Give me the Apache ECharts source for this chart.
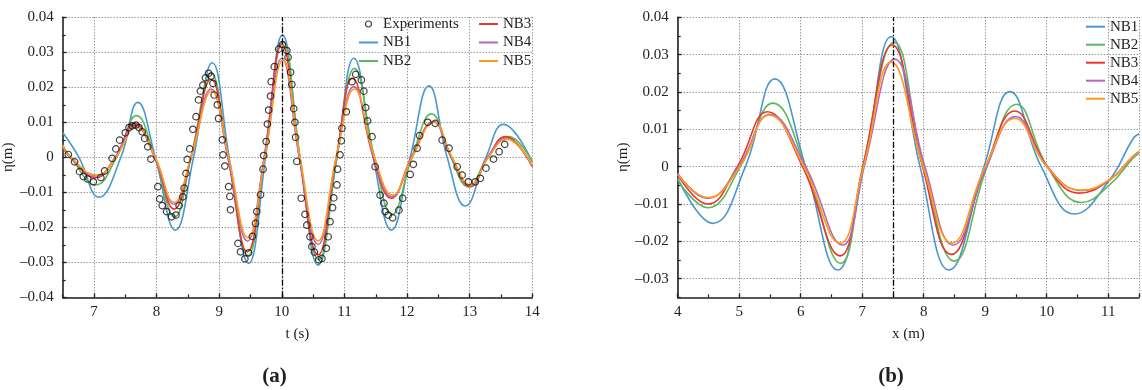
<!DOCTYPE html>
<html>
<head>
<meta charset="utf-8">
<script src="https://cdn.jsdelivr.net/npm/echarts@6/dist/echarts.min.js"></script>
<style>
  html, body { margin: 0; padding: 0; background: #fff; }
  #chart { width: 1142px; height: 390px; }
</style>
</head>
<body>
<div id="chart"></div>
<script>
// ---- (a) free-surface elevation time series at the gauge ----
const seriesNames = ['NB1', 'NB2', 'NB3', 'NB4', 'NB5'];
const seriesColors = ['#4a97cf', '#5cb85a', '#e8372c', '#b267c2', '#ff9a1c'];

const timeTicks = [7, 8, 9, 10, 11, 12, 13, 14];
const timeMarker = 10;

const experiments = [
  [6.59, 0.0008], [6.69, -0.0013], [6.77, -0.0041], [6.83, -0.0055], [6.90, -0.0062],
  [6.99, -0.0070], [7.11, -0.0058], [7.17, -0.0039], [7.29, -0.0003], [7.35, 0.0024],
  [7.41, 0.0049], [7.50, 0.0070], [7.56, 0.0085], [7.61, 0.0090], [7.67, 0.0092],
  [7.72, 0.0085], [7.77, 0.0073], [7.81, 0.0054], [7.86, 0.0030], [7.91, -0.0005],
  [8.02, -0.0084], [8.05, -0.0119], [8.09, -0.0138], [8.16, -0.0155], [8.24, -0.0170],
  [8.31, -0.0165], [8.36, -0.0138], [8.42, -0.0113], [8.44, -0.0088], [8.47, -0.0046],
  [8.49, -0.0006], [8.53, 0.0024], [8.58, 0.0080], [8.63, 0.0116], [8.67, 0.0164],
  [8.70, 0.0189], [8.74, 0.0206], [8.78, 0.0227], [8.83, 0.0240], [8.87, 0.0232],
  [8.90, 0.0211], [8.92, 0.0178], [8.97, 0.0150], [8.99, 0.0111], [9.05, 0.0050],
  [9.06, 0.0007], [9.09, -0.0025], [9.15, -0.0084], [9.17, -0.0112], [9.18, -0.0150],
  [9.30, -0.0246], [9.34, -0.0270], [9.41, -0.0290], [9.47, -0.0273], [9.53, -0.0226],
  [9.58, -0.0189], [9.60, -0.0155], [9.66, -0.0107], [9.70, -0.0034], [9.71, 0.0005],
  [9.75, 0.0045], [9.77, 0.0095], [9.79, 0.0135], [9.82, 0.0175], [9.83, 0.0216],
  [9.88, 0.0259], [9.95, 0.0309], [10.01, 0.0322], [10.08, 0.0305], [10.10, 0.0286],
  [10.14, 0.0243], [10.16, 0.0208], [10.19, 0.0139], [10.21, 0.0100], [10.22, 0.0057],
  [10.24, -0.0012], [10.31, -0.0117], [10.37, -0.0163], [10.40, -0.0194], [10.45, -0.0227],
  [10.48, -0.0255], [10.52, -0.0271], [10.59, -0.0293], [10.64, -0.0289], [10.71, -0.0260],
  [10.74, -0.0227], [10.77, -0.0184], [10.81, -0.0144], [10.83, -0.0116], [10.88, -0.0079],
  [10.89, -0.0034], [10.93, 0.0007], [10.95, 0.0047], [10.96, 0.0083], [11.03, 0.0130],
  [11.12, 0.0216], [11.18, 0.0237], [11.27, 0.0221], [11.31, 0.0189], [11.34, 0.0142],
  [11.37, 0.0104], [11.44, 0.0059], [11.49, -0.0027], [11.57, -0.0108], [11.63, -0.0131],
  [11.65, -0.0155], [11.70, -0.0165], [11.77, -0.0173], [11.87, -0.0151], [11.93, -0.0117],
  [12.05, -0.0049], [12.10, -0.0020], [12.16, 0.0026], [12.20, 0.0062], [12.33, 0.0100],
  [12.45, 0.0097], [12.56, 0.0049], [12.67, 0.0026], [12.80, -0.0027], [12.88, -0.0051],
  [12.98, -0.0070], [13.09, -0.0070], [13.17, -0.0060], [13.26, -0.0031], [13.38, -0.0005],
  [13.47, 0.0016], [13.56, 0.0037]
];

const gaugeNB1 = [
  [6.5, 0.0071], [6.76, 0], [7.08, -0.0114], [7.43, 0], [7.70, 0.0157], [7.98, 0],
  [8.30, -0.0208], [8.59, 0], [8.89, 0.0270], [9.16, 0], [9.47, -0.0303], [9.74, 0],
  [10.01, 0.0349], [10.29, 0], [10.58, -0.0308], [10.88, 0], [11.15, 0.0283], [11.46, 0],
  [11.75, -0.0208], [12.05, 0], [12.35, 0.0204], [12.64, 0], [12.93, -0.0139], [13.26, 0],
  [13.54, 0.0094], [14.0, -0.0013]
];
const gaugeNB2 = [
  [6.5, 0.0035], [6.63, 0], [7.03, -0.0079], [7.36, 0], [7.68, 0.0119], [7.97, 0],
  [8.29, -0.0170], [8.55, 0], [8.87, 0.0240], [9.14, 0], [9.46, -0.0281], [9.72, 0],
  [10.02, 0.0330], [10.29, 0], [10.59, -0.0293], [10.88, 0], [11.16, 0.0254], [11.48, 0],
  [11.76, -0.0163], [12.08, 0], [12.39, 0.0124], [12.70, 0], [12.98, -0.0084], [13.29, 0],
  [13.62, 0.0059], [14.0, -0.0013]
];
const gaugeNB3 = [
  [6.5, 0.0030], [6.62, 0], [7.03, -0.0058], [7.34, 0], [7.65, 0.0097], [7.97, 0],
  [8.28, -0.0148], [8.55, 0], [8.87, 0.0223], [9.14, 0], [9.45, -0.0270], [9.72, 0],
  [10.0, 0.0323], [10.28, 0], [10.58, -0.0279], [10.87, 0], [11.13, 0.0226], [11.46, 0],
  [11.75, -0.0117], [12.07, 0], [12.42, 0.0102], [12.71, 0], [13.01, -0.0084], [13.29, 0],
  [13.57, 0.0059], [14.0, -0.0027]
];
const gaugeNB4 = [
  [6.5, 0.0032], [6.62, 0], [7.04, -0.0053], [7.34, 0], [7.65, 0.0092], [7.97, 0],
  [8.28, -0.0134], [8.55, 0], [8.87, 0.0195], [9.14, 0], [9.45, -0.0239], [9.72, 0],
  [10.0, 0.0283], [10.28, 0], [10.58, -0.0249], [10.87, 0], [11.15, 0.0202], [11.47, 0],
  [11.76, -0.0113], [12.08, 0], [12.42, 0.0100], [12.71, 0], [13.01, -0.0081], [13.29, 0],
  [13.58, 0.0054], [14.0, -0.0025]
];
const gaugeNB5 = [
  [6.5, 0.0035], [6.63, 0], [7.05, -0.0051], [7.35, 0], [7.67, 0.0087], [7.98, 0],
  [8.28, -0.0129], [8.55, 0], [8.88, 0.0189], [9.15, 0], [9.46, -0.0230], [9.73, 0],
  [10.02, 0.0278], [10.29, 0], [10.58, -0.0239], [10.87, 0], [11.16, 0.0195], [11.48, 0],
  [11.77, -0.0108], [12.08, 0], [12.43, 0.0100], [12.72, 0], [13.01, -0.0079], [13.30, 0],
  [13.59, 0.0052], [14.0, -0.0022]
];

// ---- (b) free-surface profile along the flume ----
const etaTicksB = [-0.03, -0.02, -0.01, 0, 0.01, 0.02, 0.03, 0.04];
const positionMarker = 7.5;

const profileNB1 = [
  [4.0, -0.0031], [4.57, -0.0152], [5.10, 0], [5.58, 0.0235], [6.08, 0], [6.60, -0.0277],
  [7.03, 0], [7.47, 0.0348], [7.94, 0], [8.41, -0.0277], [8.98, 0], [9.40, 0.0201],
  [9.91, 0], [10.45, -0.0127], [11.02, -0.0036], [11.40, 0.0074], [11.5, 0.0088]
];
const profileNB2 = [
  [4.0, -0.0036], [4.49, -0.0110], [5.02, 0], [5.55, 0.0170], [6.08, 0], [6.65, -0.0259],
  [7.01, 0], [7.52, 0.0333], [8.00, 0], [8.50, -0.0253], [9.03, 0], [9.51, 0.0167],
  [10.01, 0], [10.57, -0.0096], [11.02, -0.0049], [11.40, 0.0022], [11.5, 0.0035]
];
const profileNB3 = [
  [4.0, -0.0022], [4.49, -0.0100], [4.97, 0], [5.46, 0.0147], [6.03, 0], [6.64, -0.0239],
  [7.01, 0], [7.49, 0.0326], [7.98, 0], [8.45, -0.0235], [9.01, 0], [9.48, 0.0149],
  [10.01, 0], [10.53, -0.0071], [11.02, -0.0036], [11.40, 0.0027], [11.5, 0.0040]
];
const profileNB4 = [
  [4.0, -0.0018], [4.48, -0.0085], [4.99, 0], [5.50, 0.0140], [6.08, 0], [6.68, -0.0210],
  [7.03, 0], [7.53, 0.0288], [8.02, 0], [8.48, -0.0210], [9.02, 0], [9.49, 0.0134],
  [10.01, 0], [10.57, -0.0064], [11.02, -0.0035], [11.40, 0.0027], [11.5, 0.0040]
];
const profileNB5 = [
  [4.0, -0.0021], [4.49, -0.0083], [5.01, 0], [5.49, 0.0138], [6.05, 0], [6.64, -0.0205],
  [7.02, 0], [7.47, 0.0280], [7.99, 0], [8.46, -0.0205], [9.00, 0], [9.48, 0.0129],
  [10.00, 0], [10.56, -0.0063], [11.02, -0.0035], [11.40, 0.0027], [11.5, 0.0040]
];

const gaugeSeries = [gaugeNB1, gaugeNB2, gaugeNB3, gaugeNB4, gaugeNB5];
const profileSeries = [profileNB1, profileNB2, profileNB3, profileNB4, profileNB5];

// ---- styling ----
const FONT = '"Liberation Serif", "DejaVu Serif", serif';
const INK = '#222';
const gridLine = { show: true, lineStyle: { color: '#6a6a6a', type: [1, 2], width: 1 } };
const axisLineStyle = { show: true, onZero: false, lineStyle: { color: INK, width: 1.6 } };
const labelStyle = { color: INK, fontFamily: FONT, fontSize: 15 };

function etaLabel(v) {
  if (Math.abs(v) < 1e-9) return '0';
  const s = Math.abs(v).toFixed(2);
  return v < 0 ? '\u2013' + s : s;
}

// hidden companion axis that only draws the short half-step ticks
function minorX(gridIndex, min, max) {
  return {
    type: 'value', gridIndex, min, max, interval: 0.5, position: 'bottom',
    axisLine: { show: false, onZero: false },
    axisTick: { show: true, inside: true, length: 3, lineStyle: { color: INK, width: 1.2 } },
    axisLabel: { show: false }, splitLine: { show: false }
  };
}
function minorY(gridIndex, min, max) {
  return {
    type: 'value', gridIndex, min, max, interval: 0.005, position: 'left',
    axisLine: { show: false, onZero: false },
    axisTick: { show: true, inside: true, length: 3, lineStyle: { color: INK, width: 1.2 } },
    axisLabel: { show: false }, splitLine: { show: false }
  };
}

const markerLine = (value) => ({
  symbol: 'none', silent: true, label: { show: false },
  lineStyle: { color: '#000', type: [6, 2, 1.5, 2], width: 1.3 },
  data: [{ xAxis: value }]
});

const series = [];
gaugeSeries.forEach((data, i) => {
  series.push({
    name: seriesNames[i], type: 'line', xAxisIndex: 0, yAxisIndex: 0,
    data, smooth: 0.45, symbol: 'none', animation: false,
    lineStyle: { color: seriesColors[i], width: 1.6 },
    itemStyle: { color: seriesColors[i] },
    markLine: i === 0 ? markerLine(timeMarker) : undefined
  });
});
series.push({
  name: 'Experiments', type: 'scatter', xAxisIndex: 0, yAxisIndex: 0,
  data: experiments, symbol: 'circle', symbolSize: 6.5, animation: false,
  itemStyle: { color: 'transparent', borderColor: '#111', borderWidth: 1.2 },
  z: 5
});
profileSeries.forEach((data, i) => {
  series.push({
    name: seriesNames[i], type: 'line', xAxisIndex: 1, yAxisIndex: 1,
    data, smooth: 0.45, symbol: 'none', animation: false,
    lineStyle: { color: seriesColors[i], width: 1.6 },
    itemStyle: { color: seriesColors[i] },
    markLine: i === 0 ? markerLine(positionMarker) : undefined
  });
});

// legend keys show only the line (no marker dot)
const legendBase = {
  orient: 'vertical', itemWidth: 19, itemHeight: 6, itemGap: 0, padding: 0,
  itemStyle: { color: 'transparent', borderWidth: 0 },
  textStyle: { color: INK, fontFamily: FONT, fontSize: 15, lineHeight: 18.5 },
  selectedMode: false
};

const option = {
  backgroundColor: '#fff',
  animation: false,
  grid: [
    { left: 62, top: 17.3, width: 470.3, height: 280 },
    { left: 677.7, top: 17.3, width: 470.6, height: 280 }
  ],
  xAxis: [
    {
      type: 'value', gridIndex: 0, min: 6.5, max: 14, position: 'bottom',
      name: 't (s)', nameLocation: 'middle', nameGap: 29,
      nameTextStyle: labelStyle,
      axisLine: axisLineStyle,
      axisTick: { show: true, inside: true, length: 4, customValues: timeTicks, lineStyle: { color: INK, width: 1.2 } },
      axisLabel: Object.assign({ margin: 7, customValues: timeTicks }, labelStyle),
      splitLine: gridLine
    },
    {
      type: 'value', gridIndex: 1, min: 4, max: 11.5, interval: 1, position: 'bottom',
      name: 'x (m)', nameLocation: 'middle', nameGap: 29,
      nameTextStyle: labelStyle,
      axisLine: axisLineStyle,
      axisTick: { show: true, inside: true, length: 4, lineStyle: { color: INK, width: 1.2 } },
      axisLabel: Object.assign({ margin: 7, formatter: v => (Math.abs(v - Math.round(v)) < 1e-9 ? String(v) : '') }, labelStyle),
      splitLine: gridLine
    },
    minorX(0, 6.5, 14),
    minorX(1, 4, 11.5)
  ],
  yAxis: [
    {
      type: 'value', gridIndex: 0, min: -0.04, max: 0.04, interval: 0.01, position: 'left',
      name: '\u03b7(m)', nameLocation: 'middle', nameGap: 38, nameRotate: 90,
      nameTextStyle: labelStyle,
      axisLine: axisLineStyle,
      axisTick: { show: true, inside: true, length: 4, lineStyle: { color: INK, width: 1.2 } },
      axisLabel: Object.assign({ margin: 9, formatter: etaLabel }, labelStyle),
      splitLine: gridLine
    },
    {
      type: 'value', gridIndex: 1, min: -0.035, max: 0.04, position: 'left',
      name: '\u03b7(m)', nameLocation: 'middle', nameGap: 37, nameRotate: 90,
      nameTextStyle: labelStyle,
      axisLine: axisLineStyle,
      axisTick: { show: true, inside: true, length: 4, customValues: etaTicksB, lineStyle: { color: INK, width: 1.2 } },
      axisLabel: Object.assign({ margin: 9, customValues: etaTicksB, formatter: etaLabel }, labelStyle),
      splitLine: gridLine
    },
    minorY(0, -0.04, 0.04),
    minorY(1, -0.035, 0.04)
  ],
  legend: [
    Object.assign({}, legendBase, {
      left: 358, top: 14.75,
      data: [
        { name: 'Experiments', icon: 'circle', itemStyle: { color: 'transparent', borderColor: '#111', borderWidth: 1.2 } },
        'NB1', 'NB2'
      ]
    }),
    Object.assign({}, legendBase, { left: 478, top: 14.75, data: ['NB3', 'NB4', 'NB5'] }),
    Object.assign({}, legendBase, {
      left: 1085, top: 17.7, data: seriesNames,
      textStyle: { color: INK, fontFamily: FONT, fontSize: 15, lineHeight: 18 }
    })
  ],
  graphic: [
    { type: 'text', x: 274.5, y: 377, style: { text: '(a)', font: 'bold 21px ' + FONT, fill: INK, align: 'center', verticalAlign: 'middle' } },
    { type: 'text', x: 891, y: 377, style: { text: '(b)', font: 'bold 21px ' + FONT, fill: INK, align: 'center', verticalAlign: 'middle' } }
  ],
  series
};

const chart = echarts.init(document.getElementById('chart'), null, { renderer: 'canvas' });
chart.setOption(option);
</script>
</body>
</html>
